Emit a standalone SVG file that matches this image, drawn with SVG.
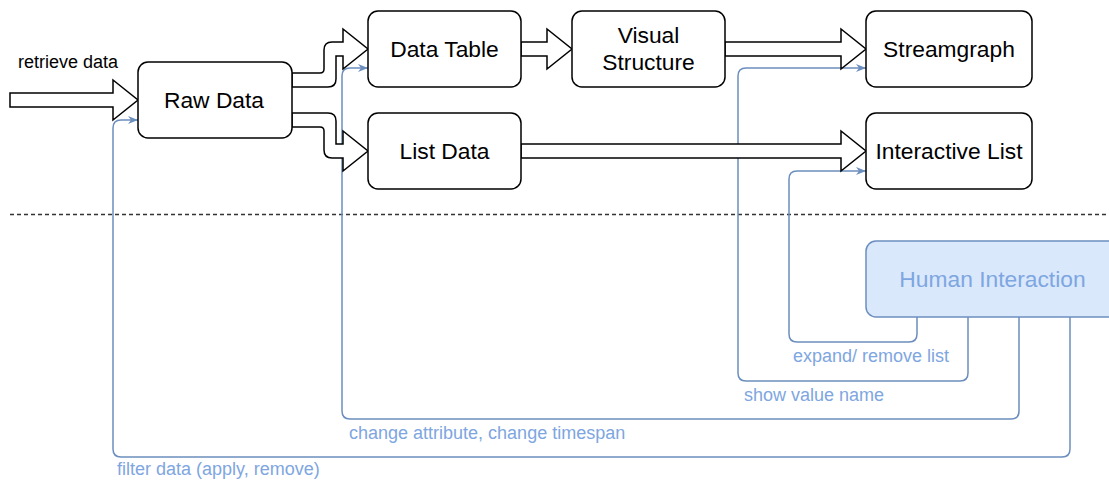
<svg xmlns="http://www.w3.org/2000/svg" width="1109" height="483" viewBox="0 0 1109 483">
<style>
.box{fill:#ffffff;stroke:#000000;stroke-width:1.5}
.hi{fill:#dae8fc;stroke:#6c8ebf;stroke-width:1.5}
.blk{fill:#ffffff;stroke:#000000;stroke-width:1.5;stroke-linejoin:miter}
.fb{fill:none;stroke:#6c8ebf;stroke-width:1.5}
.t{font-family:"Liberation Sans",Arial,sans-serif;font-size:22.8px;fill:#000000;text-anchor:middle}
.th{font-family:"Liberation Sans",Arial,sans-serif;font-size:22.8px;fill:#7ea6e0;text-anchor:middle}
.l{font-family:"Liberation Sans",Arial,sans-serif;font-size:18px;fill:#000000}
.lb{font-family:"Liberation Sans",Arial,sans-serif;font-size:18px;fill:#7ea6e0}
</style>
<defs>
<marker id="ab" markerUnits="userSpaceOnUse" markerWidth="10" markerHeight="8" viewBox="0 0 10 8" refX="10" refY="4" orient="auto">
<path d="M0,0 L10,4 L0,8 L3,4 Z" fill="#6c8ebf"/>
</marker>
</defs>
<rect width="1109" height="483" fill="#ffffff"/>
<line x1="10" y1="214.5" x2="1109" y2="214.5" stroke="#333333" stroke-width="1.5" stroke-dasharray="4 3"/>
<g id="connectors">
<path class="fb" marker-end="url(#ab)" d="M917,317 V334 Q917,342 909,342 H797 Q789,342 789,334 V179 Q789,171 797,171 H866"/>
<path class="fb" marker-end="url(#ab)" d="M968,317 V373 Q968,381 960,381 H746 Q738,381 738,373 V76 Q738,68 746,68 H866"/>
<path class="fb" marker-end="url(#ab)" d="M1019,317 V411 Q1019,419 1011,419 H350 Q342,419 342,411 V76 Q342,68 350,68 H368"/>
<path class="fb" marker-end="url(#ab)" d="M1070,317 V449 Q1070,457 1062,457 H121 Q113,457 113,449 V128 Q113,120 121,120 H138"/>
<path class="blk" d="M10,93 H113 V80 L138,100 L113,120 V107 H10 Z"/>
<path class="blk" d="M292,73 H320 Q324,73 324,69 V50 Q324,42 332,42 H343 V29 L368,49 L343,69 V56 H336 V79 Q336,87 328,87 H292 Z"/>
<path class="blk" d="M292,113 H328 Q336,113 336,121 V144 H343 V131 L368,151 L343,171 V158 H332 Q324,158 324,150 V131 Q324,127 320,127 H292 Z"/>
<path class="blk" d="M521,42 H547 V29 L572,49 L547,69 V56 H521 Z"/>
<path class="blk" d="M725,42 H841 V29 L866,49 L841,69 V56 H725 Z"/>
<path class="blk" d="M521,144 H841 V131 L866,151 L841,171 V158 H521 Z"/>
</g>
<g id="raw-data"><rect class="box" x="138" y="62" width="154" height="76" rx="10"/><text class="t" x="214" y="108">Raw Data</text></g>
<g id="data-table"><rect class="box" x="368" y="11" width="153" height="76" rx="10"/><text class="t" x="444.5" y="57">Data Table</text></g>
<g id="list-data"><rect class="box" x="368" y="113" width="153" height="76" rx="10"/><text class="t" x="444.5" y="159">List Data</text></g>
<g id="visual-structure"><rect class="box" x="572" y="11" width="153" height="76" rx="10"/><text class="t" x="648.5" y="43">Visual</text><text class="t" x="648.5" y="70">Structure</text></g>
<g id="streamgraph"><rect class="box" x="866" y="11" width="166" height="76" rx="10"/><text class="t" x="949" y="57">Streamgraph</text></g>
<g id="interactive-list"><rect class="box" x="866" y="113" width="166" height="76" rx="10"/><text class="t" x="949" y="159">Interactive List</text></g>
<g id="human-interaction"><rect class="hi" x="866" y="241" width="262" height="76" rx="10"/><text class="th" x="992.5" y="287">Human Interaction</text></g>
<g id="labels">
<text class="l" x="18" y="68">retrieve data</text>
<text class="lb" x="793" y="362">expand/ remove list</text>
<text class="lb" x="744" y="401">show value name</text>
<text class="lb" x="349" y="439">change attribute, change timespan</text>
<text class="lb" x="117" y="475">filter data (apply, remove)</text>
</g>
</svg>
